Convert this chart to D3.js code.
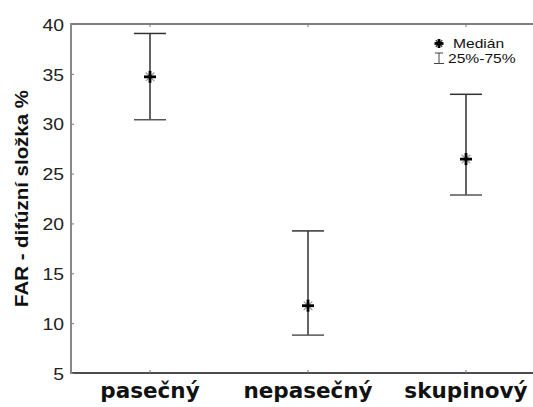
<!DOCTYPE html>
<html><head><meta charset="utf-8">
<script src="https://cdn.jsdelivr.net/npm/d3@7"></script>
<style>body{margin:0;background:#fff}svg{display:block}</style>
</head><body>
<script>
const categories = ["pasečný", "nepasečný", "skupinový"];
const medians = [34.7, 11.75, 26.45];
const q25 = [30.4, 8.8, 22.85];
const q75 = [39.05, 19.25, 32.95];
const yTicks = [5, 10, 15, 20, 25, 30, 35, 40];
const yLabel = "FAR - difúzní složka %";
const legendLabels = ["Medián", "25%-75%"];

const W = 533, H = 407;
const m = {left: 71, top: 24, right: -12, bottom: 34};
const svg = d3.select("body").append("svg").attr("width", W).attr("height", H);

const x = d3.scalePoint().domain(categories).range([m.left, W - m.right]).padding(0.5);
const y = d3.scaleLinear().domain([5, 40]).range([H - m.bottom, m.top]);

const x0 = m.left, x1 = W - m.right, y0 = y(5), y1 = y(40);

// frame lines
svg.append("line").attr("x1", x0).attr("x2", x1).attr("y1", y1).attr("y2", y1).attr("stroke", "#555").attr("stroke-width", 1.3);
svg.append("line").attr("x1", x0).attr("x2", x1).attr("y1", y0).attr("y2", y0).attr("stroke", "#111").attr("stroke-width", 1.3);

// category ticks (inward) top and bottom
categories.forEach(c => {
  svg.append("line").attr("x1", x(c)).attr("x2", x(c)).attr("y1", y1).attr("y2", y1 + 3).attr("stroke", "#777");
  svg.append("line").attr("x1", x(c)).attr("x2", x(c)).attr("y1", y0).attr("y2", y0 - 3).attr("stroke", "#777");
});

// y axis
const yAxis = d3.axisLeft(y).tickValues(yTicks).tickSize(0).tickFormat(d3.format("d"));
const gy = svg.append("g").attr("transform", `translate(${x0},0)`).call(yAxis);
gy.select(".domain").remove();
gy.selectAll(".tick text").remove();
gy.selectAll(".tick").each(function(d) {
  const g = d3.select(this);
  g.append("line").attr("x1", 0).attr("x2", 3).attr("stroke", "#777");
  g.append("text").attr("transform", "translate(-7,6.2) scale(1.14,1)")
    .attr("text-anchor", "end").attr("fill", "#222")
    .style("font-family", "Liberation Sans, Arial, sans-serif").style("font-size", "17px")
    .text(d);
});
svg.append("line").attr("x1", x0).attr("x2", x0).attr("y1", y1 - 1).attr("y2", y0 + 1).attr("stroke", "#888").attr("stroke-width", 2);

// y label
svg.append("text").attr("transform", `translate(28,${(y0 + y1) / 2}) rotate(-90) scale(1.135,1)`)
  .attr("text-anchor", "middle").attr("fill", "#111")
  .style("font-family", "Liberation Sans, Arial, sans-serif").style("font-size", "18px").style("font-weight", "bold")
  .text(yLabel);

// category labels
svg.selectAll("text.cat").data(categories).join("text").attr("class", "cat")
  .attr("x", d => x(d)).attr("y", 398).attr("text-anchor", "middle").attr("fill", "#111")
  .style("font-family", "DejaVu Sans, sans-serif").style("font-size", "21.5px").style("font-weight", "bold")
  .text(d => d);

function star(g, cx, cy, s, diag) {
  const r = s / 2, d = r * 0.72;
  g.append("line").attr("x1", cx - d).attr("y1", cy - d).attr("x2", cx + d).attr("y2", cy + d).attr("stroke", diag).attr("stroke-width", 1.2);
  g.append("line").attr("x1", cx - d).attr("y1", cy + d).attr("x2", cx + d).attr("y2", cy - d).attr("stroke", diag).attr("stroke-width", 1.2);
  g.append("line").attr("x1", cx - r).attr("y1", cy).attr("x2", cx + r).attr("y2", cy).attr("stroke", "#000").attr("stroke-width", 2.8);
  g.append("line").attr("x1", cx).attr("y1", cy - r).attr("x2", cx).attr("y2", cy + r).attr("stroke", "#000").attr("stroke-width", 2.8);
}

// error bars
const cap = 16;
categories.forEach((c, i) => {
  const g = svg.append("g");
  const cx = x(c);
  g.append("line").attr("x1", cx).attr("x2", cx).attr("y1", y(q75[i])).attr("y2", y(q25[i])).attr("stroke", "#111").attr("stroke-width", 1.3);
  g.append("line").attr("x1", cx - cap).attr("x2", cx + cap).attr("y1", y(q75[i])).attr("y2", y(q75[i])).attr("stroke", "#333").attr("stroke-width", 1.5);
  g.append("line").attr("x1", cx - cap).attr("x2", cx + cap).attr("y1", y(q25[i])).attr("y2", y(q25[i])).attr("stroke", "#555").attr("stroke-width", 1.5);
  star(g, cx, y(medians[i]), 12, "#999");
});

// legend
const lg = svg.append("g");
star(lg, 439, 43.5, 9, "#333");
lg.append("line").attr("x1", 439).attr("x2", 439).attr("y1", 53).attr("y2", 63).attr("stroke", "#444");
lg.append("line").attr("x1", 435).attr("x2", 443).attr("y1", 53).attr("y2", 53).attr("stroke", "#444");
lg.append("line").attr("x1", 434).attr("x2", 444).attr("y1", 63.5).attr("y2", 63.5).attr("stroke", "#444");
legendLabels.forEach((t, i) => {
  lg.append("text").attr("transform", `translate(${i ? 448 : 453},${48 + i * 14.5}) scale(1.25,1)`)
    .attr("fill", "#111").style("font-family", "Liberation Sans, Arial, sans-serif").style("font-size", "12.5px")
    .text(t);
});
</script>
</body></html>
